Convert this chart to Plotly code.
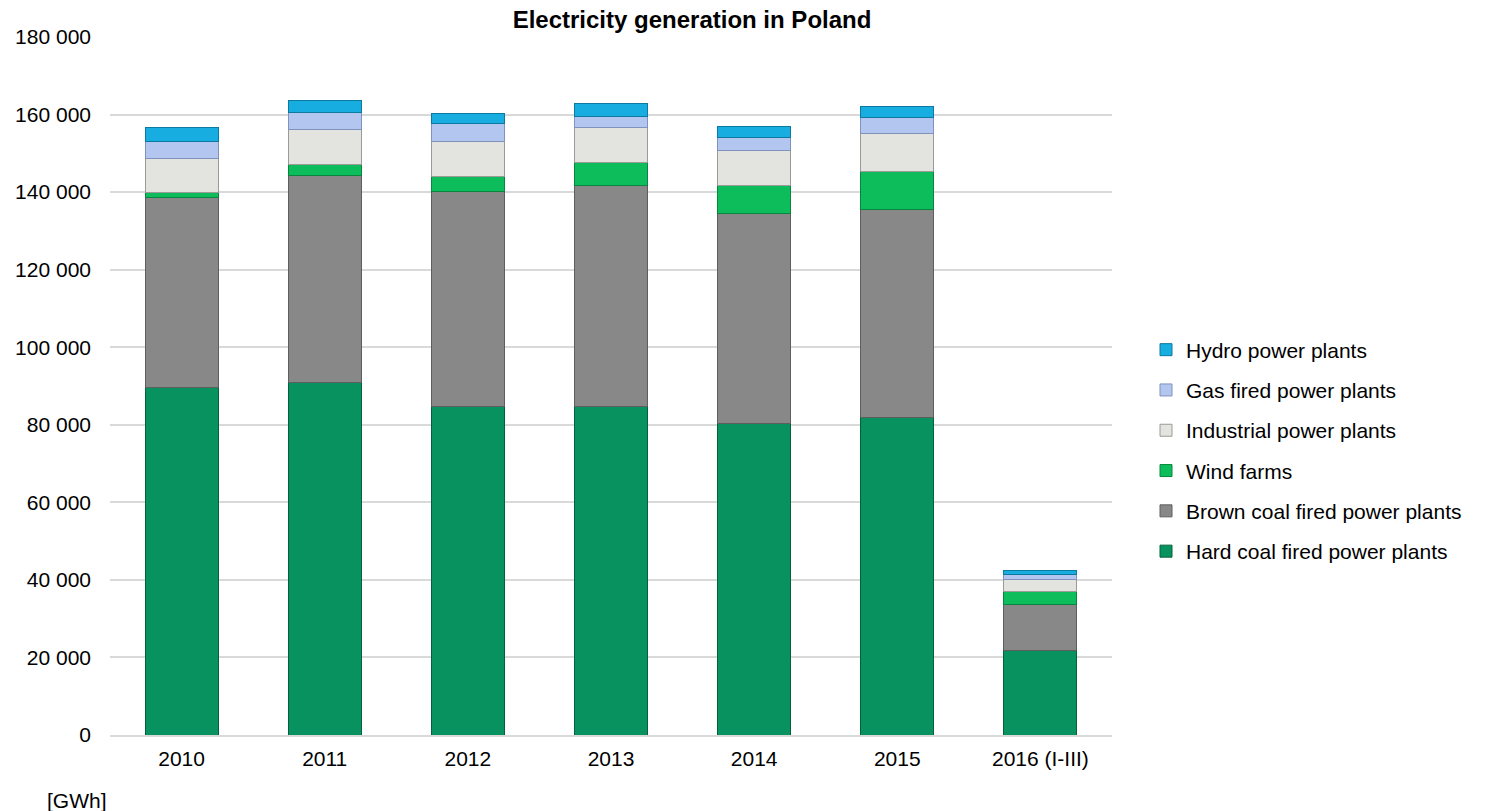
import plotly.graph_objects as go

years = ["2010", "2011", "2012", "2013", "2014", "2015", "2016 (I-III)"]

hard_coal = [89500, 90900, 84800, 84800, 80400, 81800, 21700]
brown_coal = [49200, 53500, 55300, 56800, 54100, 53600, 12000]
wind = [1300, 2800, 4000, 6000, 7300, 10000, 3300]
industrial = [8700, 9000, 8900, 9000, 9000, 9600, 3100]
gas = [4300, 4300, 4700, 3000, 3200, 4200, 1200]
hydro = [3700, 3100, 2600, 3300, 3000, 2900, 1200]

y_tickvals = [0, 20000, 40000, 60000, 80000, 100000, 120000, 140000, 160000, 180000]
y_ticktext = ["0", "20 000", "40 000", "60 000", "80 000", "100 000",
              "120 000", "140 000", "160 000", "180 000"]

series = [
    ("Hard coal fired power plants", hard_coal, "#08925f", "#05603f", 6),
    ("Brown coal fired power plants", brown_coal, "#888888", "#5e5e5e", 5),
    ("Wind farms", wind, "#0dbd5b", "#08863f", 4),
    ("Industrial power plants", industrial, "#e3e3df", "#9a9a96", 3),
    ("Gas fired power plants", gas, "#b3c6ef", "#7f93bd", 2),
    ("Hydro power plants", hydro, "#17ade0", "#0c7aa0", 1),
]

FONT = "Liberation Sans, Arial, sans-serif"

fig = go.Figure()
for name, vals, color, edge, rank in series:
    fig.add_trace(go.Bar(
        x=years, y=vals, name=name, legendgroup=name, legendrank=rank,
        marker=dict(color=color, line=dict(color=edge, width=1)),
    ))

W, H = 1496, 811
L, R, T, B = 110, 384, 37, 76

fig.update_layout(
    width=W, height=H,
    barmode="stack", bargap=0.49,
    plot_bgcolor="white", paper_bgcolor="white",
    margin=dict(l=L, r=R, t=T, b=B, autoexpand=False),
    font=dict(family=FONT, size=21, color="#000000"),
    title=dict(text="<b>Electricity generation in Poland</b>",
               x=692 / W, xanchor="center", xref="container",
               y=1 - 20 / H, yanchor="middle", yref="container",
               font=dict(family=FONT, size=24, color="#000000")),
    legend=dict(x=(1146 - L) / (W - L - R), xanchor="left",
                y=(735 - 450.5) / (H - T - B), yanchor="middle",
                traceorder="grouped", tracegroupgap=10,
                font=dict(family=FONT, size=21, color="#000000"),
                bgcolor="rgba(0,0,0,0)"),
    showlegend=True,
)

fig.update_yaxes(range=[0, 180000], tickvals=y_tickvals, ticktext=y_ticktext,
                 showgrid=True, gridcolor="#d9d9d9", gridwidth=2,
                 zeroline=False, showline=False, ticks="", ticklabelstandoff=18,
                 tickfont=dict(family=FONT, size=21, color="#000000"))
fig.update_xaxes(showline=True, linecolor="#d9d9d9", linewidth=2, ticks="",
                 ticklabelstandoff=4,
                 tickfont=dict(family=FONT, size=21, color="#000000"))

fig.add_annotation(text="[GWh]", xref="paper", yref="paper",
                   x=(45 - L) / (W - L - R), xanchor="left",
                   y=(735 - 800) / (H - T - B), yanchor="middle",
                   showarrow=False, font=dict(family=FONT, size=21, color="#000000"))

fig.write_html("out.html")
